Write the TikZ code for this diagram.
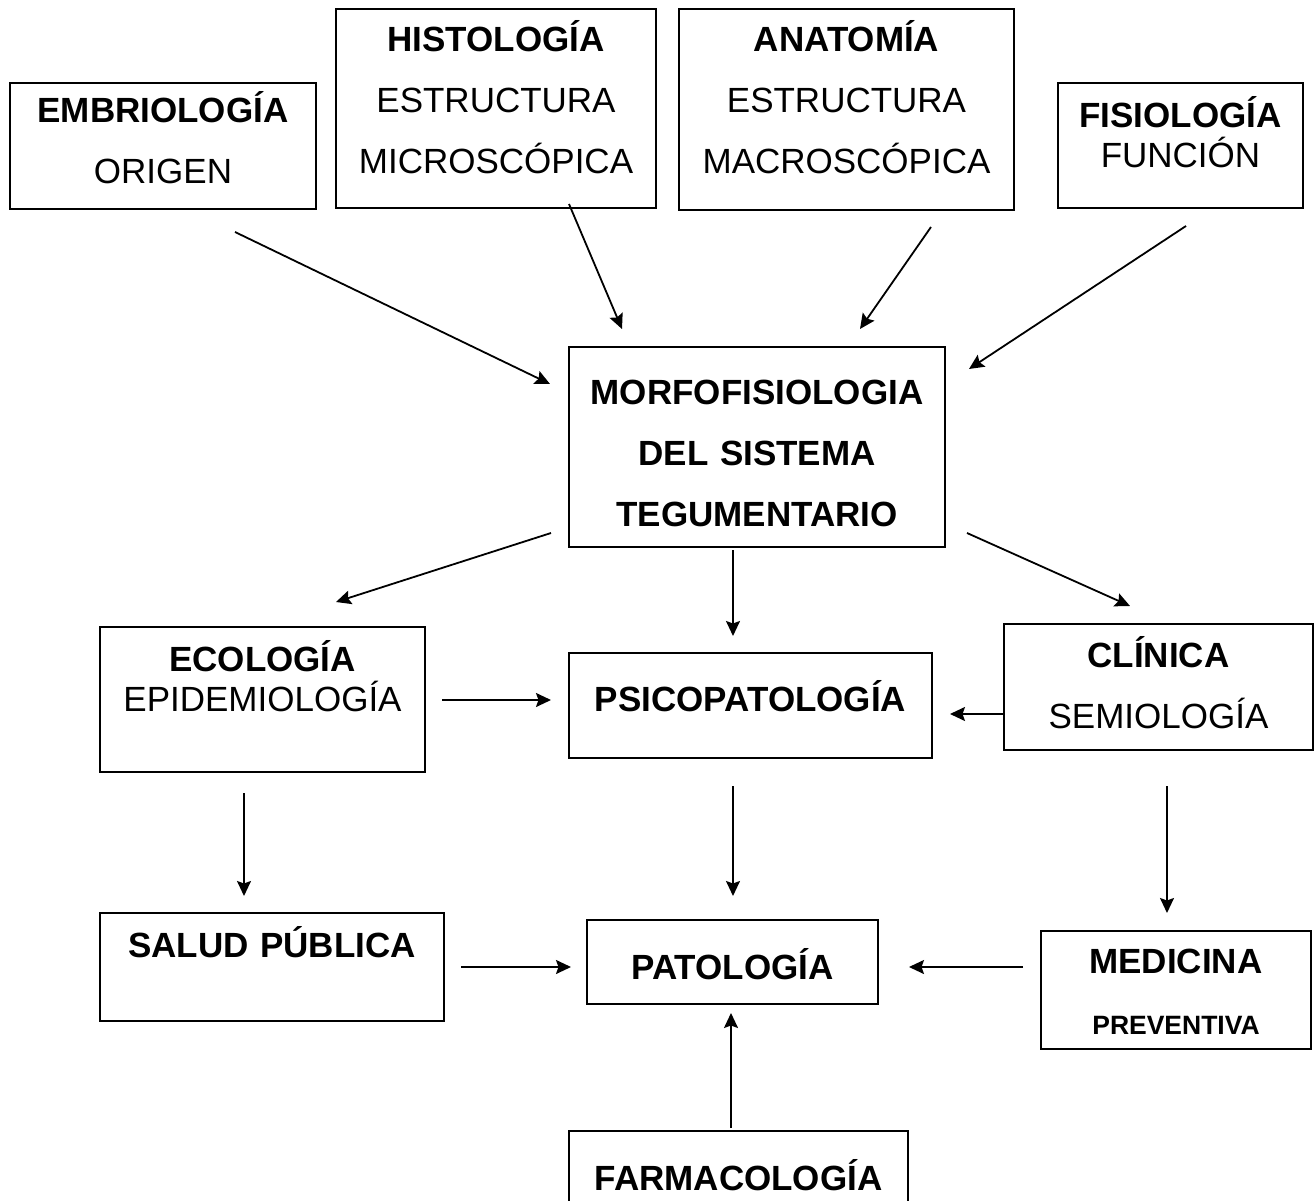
\documentclass[tikz,border=0pt]{standalone}
\usepackage{fontspec}
\setmainfont{Liberation Sans}
\usetikzlibrary{arrows.meta,positioning}
\tikzset{
  box/.style={draw=black, line width=2pt, inner sep=0pt},
  boxtext/.style={text width=#1, align=center, inner sep=0pt, anchor=base, font=\fontsize{35}{61}\selectfont},
  tighttext/.style={boxtext=#1, font=\fontsize{35}{40}\selectfont},
  arrow/.style={-{Stealth[length=15pt,width=14pt,inset=2.5pt]}, line width=1.8pt}
}
\begin{document}
\begin{tikzpicture}[x=1pt, y=-1pt]
\useasboundingbox (0,0) rectangle (1315,1201);
% frames
\node[box, minimum width=306pt, minimum height=126pt] (embrio) at (163,146) {};
\node[box, minimum width=320pt, minimum height=199pt] (histo) at (496,108.5) {};
\node[box, minimum width=335pt, minimum height=201pt] (anat) at (846.5,109.5) {};
\node[box, minimum width=245pt, minimum height=125pt] (fisio) at (1180.5,145.5) {};
\node[box, minimum width=376pt, minimum height=200pt] (morfo) at (757,447) {};
\node[box, minimum width=325pt, minimum height=145pt] (eco) at (262.5,699.5) {};
\node[box, minimum width=363pt, minimum height=105pt] (psico) at (750.5,705.5) {};
\node[box, minimum width=309pt, minimum height=126pt] (clin) at (1158.5,687) {};
\node[box, minimum width=344pt, minimum height=108pt] (salud) at (272,967) {};
\node[box, minimum width=291pt, minimum height=84pt] (pato) at (732.5,962) {};
\node[box, minimum width=270pt, minimum height=118pt] (medic) at (1176,990) {};
\node[box, minimum width=339pt, minimum height=129pt] (farma) at (738.5,1195.5) {};
% texts
\node[boxtext=306pt] (embrio-t) at (163,123) {{\bfseries EMBRIOLOGÍA}\\ORIGEN};
\node[boxtext=320pt] (histo-t) at (496,52) {{\bfseries HISTOLOGÍA}\\ESTRUCTURA\\MICROSCÓPICA};
\node[boxtext=335pt] (anat-t) at (846.5,52) {{\bfseries ANATOMÍA}\\ESTRUCTURA\\MACROSCÓPICA};
\node[tighttext=245pt] (fisio-t) at (1180.5,128) {{\bfseries FISIOLOGÍA}\\FUNCIÓN};
\node[boxtext=376pt, font=\fontsize{35}{61}\selectfont\bfseries] (morfo-t) at (757,404) {MORFOFISIOLOGIA\\DEL SISTEMA\\TEGUMENTARIO};
\node[tighttext=325pt] (eco-t) at (262.5,671) {{\bfseries ECOLOGÍA}\\EPIDEMIOLOGÍA};
\node[boxtext=363pt] (psico-t) at (750.5,711) {\bfseries PSICOPATOLOGÍA};
\node[boxtext=309pt] (clin-t) at (1158.5,667) {{\bfseries CLÍNICA}\\SEMIOLOGÍA};
\node[boxtext=344pt] (salud-t) at (272,957) {\bfseries SALUD PÚBLICA};
\node[boxtext=291pt] (pato-t) at (732.5,979) {\bfseries PATOLOGÍA};
\node[boxtext=270pt, font=\fontsize{35}{61}\selectfont\bfseries] (medic-t) at (1176,973) {MEDICINA\\{\fontsize{26.5}{61}\selectfont PREVENTIVA}};
\node[boxtext=339pt] (farma-t) at (738.5,1190) {\bfseries FARMACOLOGÍA};
% arrow ends
\coordinate (embrio-out) at (235,232);   \coordinate (morfo-in1) at (550,384);
\coordinate (histo-out) at (569,204);    \coordinate (morfo-in2) at (622,329);
\coordinate (anat-out) at (931,227);     \coordinate (morfo-in3) at (860,329);
\coordinate (fisio-out) at (1186,226);   \coordinate (morfo-in4) at (969,369);
\coordinate (morfo-out1) at (551,533);   \coordinate (eco-in) at (336,602);
\coordinate (morfo-out2) at (733,550);   \coordinate (psico-in1) at (733,636);
\coordinate (morfo-out3) at (967,533);   \coordinate (clin-in) at (1130,606);
\coordinate (eco-out1) at (442,700);     \coordinate (psico-in2) at (551,700);
\coordinate (clin-out1) at (1003,714);   \coordinate (psico-in3) at (950,714);
\coordinate (eco-out2) at (244,793);     \coordinate (salud-in) at (244,896);
\coordinate (psico-out) at (733,786);    \coordinate (pato-in1) at (733,896);
\coordinate (clin-out2) at (1167,786);   \coordinate (medic-in) at (1167,913);
\coordinate (salud-out) at (461,967);    \coordinate (pato-in2) at (571,967);
\coordinate (medic-out) at (1023,967);   \coordinate (pato-in3) at (909,967);
\coordinate (farma-out) at (731,1128);   \coordinate (pato-in4) at (731,1013);
\draw[arrow] (embrio-out) -- (morfo-in1);
\draw[arrow] (histo-out) -- (morfo-in2);
\draw[arrow] (anat-out) -- (morfo-in3);
\draw[arrow] (fisio-out) -- (morfo-in4);
\draw[arrow] (morfo-out1) -- (eco-in);
\draw[arrow] (morfo-out2) -- (psico-in1);
\draw[arrow] (morfo-out3) -- (clin-in);
\draw[arrow] (eco-out1) -- (psico-in2);
\draw[arrow] (clin-out1) -- (psico-in3);
\draw[arrow] (eco-out2) -- (salud-in);
\draw[arrow] (psico-out) -- (pato-in1);
\draw[arrow] (clin-out2) -- (medic-in);
\draw[arrow] (salud-out) -- (pato-in2);
\draw[arrow] (medic-out) -- (pato-in3);
\draw[arrow] (farma-out) -- (pato-in4);
\end{tikzpicture}
\end{document}
